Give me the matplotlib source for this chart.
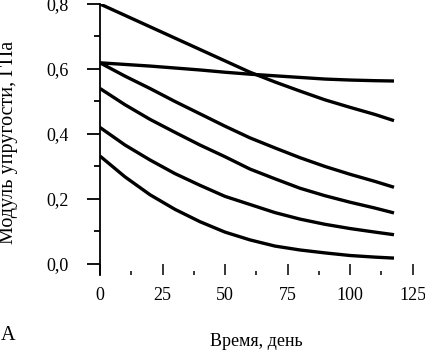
import matplotlib.pyplot as plt
from matplotlib.ticker import MultipleLocator, FuncFormatter

plt.rcParams['font.family'] = ['Liberation Serif', 'DejaVu Serif']

# время, дни
t = [0, 10, 20, 30, 40, 50, 60, 70, 80, 90, 100, 110, 117.6]

# модуль упругости, ГПа (шесть кривых, сверху вниз)
e1 = [0.800, 0.765, 0.730, 0.695, 0.660, 0.625, 0.590, 0.560, 0.532, 0.505, 0.482, 0.460, 0.441]
e2 = [0.619, 0.614, 0.609, 0.603, 0.597, 0.590, 0.584, 0.579, 0.574, 0.569, 0.566, 0.564, 0.563]
e3 = [0.619, 0.578, 0.540, 0.500, 0.462, 0.424, 0.388, 0.357, 0.327, 0.300, 0.276, 0.254, 0.236]
e4 = [0.540, 0.490, 0.445, 0.405, 0.366, 0.330, 0.292, 0.262, 0.233, 0.210, 0.190, 0.172, 0.157]
e5 = [0.420, 0.366, 0.320, 0.278, 0.242, 0.208, 0.183, 0.158, 0.138, 0.122, 0.109, 0.098, 0.090]
e6 = [0.332, 0.268, 0.213, 0.168, 0.130, 0.098, 0.074, 0.055, 0.043, 0.034, 0.026, 0.021, 0.018]

fig = plt.figure(figsize=(4.25, 3.51), dpi=100)
ax = fig.add_axes([100/425, 76/351, 312.5/425, 271/351])

for e in [e1, e2, e3, e4, e5, e6]:
    ax.plot(t, e, color='black', lw=2.4, solid_capstyle='butt', solid_joinstyle='round')

ax.set_xlim(0, 125)
ax.set_ylim(-0.034, 0.8)

for s in ['top', 'right', 'bottom']:
    ax.spines[s].set_visible(False)
ax.spines['left'].set_linewidth(1.3)

ax.xaxis.set_major_locator(MultipleLocator(25))
ax.xaxis.set_minor_locator(MultipleLocator(12.5))
ax.yaxis.set_major_locator(MultipleLocator(0.2))
ax.yaxis.set_minor_locator(MultipleLocator(0.1))
ax.yaxis.set_major_formatter(FuncFormatter(lambda v, p: f'{v:.1f}'.replace('.', ',')))

ax.tick_params(axis='x', which='major', direction='in', length=8, width=1.1, pad=9, labelsize=13)
ax.tick_params(axis='x', which='minor', direction='in', length=3, width=1.1)
ax.tick_params(axis='y', which='major', direction='out', length=9.5, width=1.3, pad=13, labelsize=13)
ax.tick_params(axis='y', which='minor', direction='out', length=4.5, width=1.3)

fig.text(256/425, 1 - 341/351, 'Время, день', ha='center', va='center', fontsize=13)
fig.text(9/425, 1 - 142/351, 'Модуль упругости, ГПа', ha='center', va='center',
         rotation=90, fontsize=14.5)
fig.text(1/425, 1 - 336/351, 'A', ha='left', va='center', fontsize=14.5)

fig.savefig('out.png', dpi=100)
